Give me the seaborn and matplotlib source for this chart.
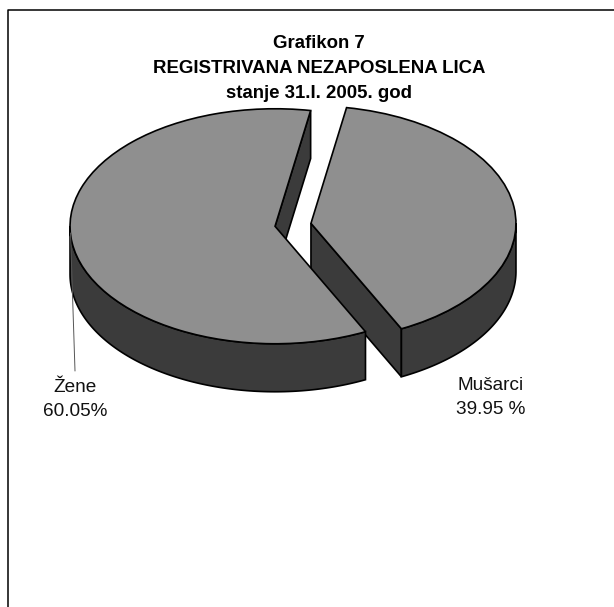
import numpy as np
import matplotlib
matplotlib.use('Agg')
import matplotlib.pyplot as plt
from matplotlib.lines import Line2D
import seaborn as sns

categories = ['Žene', 'Mušarci']
shares = [60.05, 39.95]
share_labels = ['60.05%', '39.95 %']
title_lines = ['Grafikon 7', 'REGISTRIVANA NEZAPOSLENA LICA', 'stanje 31.I. 2005. god']

W, H = 614, 607
# pie placement in pixels (the pie is squashed to look 3D)
cx, cy = 293.0, 224.8
rx, ry = 205.0, 117.5
depth = 48.0 / ry
top_color = '#8f8f8f'
side_color = '#3b3b3b'
edge_lw = 1.2

sns.set_style('white')
plt.rcParams['font.family'] = ['Liberation Sans', 'DejaVu Sans']

fig = plt.figure(figsize=(W / 100, H / 100), dpi=100)
ax = fig.add_axes([0, 0, 1, 1])

wedges, _ = ax.pie(shares, explode=[0.0885, 0.0885], startangle=80, radius=1,
                   colors=[top_color, top_color],
                   wedgeprops={'edgecolor': 'black', 'linewidth': edge_lw, 'joinstyle': 'miter'})
ax.set_aspect('auto')
ax.set_xlim(-cx / rx, (W - cx) / rx)
ax.set_ylim((cy - H) / ry, cy / ry)
ax.axis('off')


def rim(wedge, a0, a1):
    t = np.radians(np.linspace(a0, a1, 120))
    return wedge.center[0] + wedge.r * np.cos(t), wedge.center[1] + wedge.r * np.sin(t)


def wall(x, y, zorder):
    # extrude a top edge downward
    xs = np.r_[x, x[::-1]]
    ys = np.r_[y, y[::-1] - depth]
    ax.fill(xs, ys, facecolor=side_color, edgecolor='black', linewidth=edge_lw,
            joinstyle='miter', zorder=zorder)


def spoke(wedge, angle):
    t = np.radians(angle)
    c = wedge.center
    return (np.array([c[0], c[0] + wedge.r * np.cos(t)]),
            np.array([c[1], c[1] + wedge.r * np.sin(t)]))


zene, musarci = wedges

# men first, the women's slice overlaps their cut face
wall(*spoke(musarci, musarci.theta1), 1)
wall(*rim(musarci, musarci.theta1, 360), 1)
musarci.set_zorder(2)

wall(*spoke(zene, zene.theta1), 3)
wall(*rim(zene, 180, zene.theta2), 3)
zene.set_zorder(4)

# leader line for the left label
fig.add_artist(Line2D([70.5 / W, 75 / W], [1 - 233 / H, 1 - 371 / H], color='#555555', lw=0.7))

# outer frame
fig.add_artist(Line2D([8 / W, 8 / W, 1], [0, 1 - 10 / H, 1 - 10 / H], color='black', lw=1.1))

for text, y in zip(title_lines, [48.3, 72.7, 97.7]):
    fig.text(319 / W, 1 - y / H, text, ha='center', va='baseline', fontsize=13.4,
             fontweight='bold', color='black')

fig.text(75 / W, 1 - 391.7 / H, categories[0], ha='center', va='baseline', fontsize=13.7, color='#111111')
fig.text(75 / W, 1 - 416 / H, share_labels[0], ha='center', va='baseline', fontsize=13.7, color='#111111')
fig.text(490.5 / W, 1 - 390 / H, categories[1], ha='center', va='baseline', fontsize=13.7, color='#111111')
fig.text(490.5 / W, 1 - 414.3 / H, share_labels[1], ha='center', va='baseline', fontsize=13.7, color='#111111')

fig.savefig('out.png', dpi=100)
